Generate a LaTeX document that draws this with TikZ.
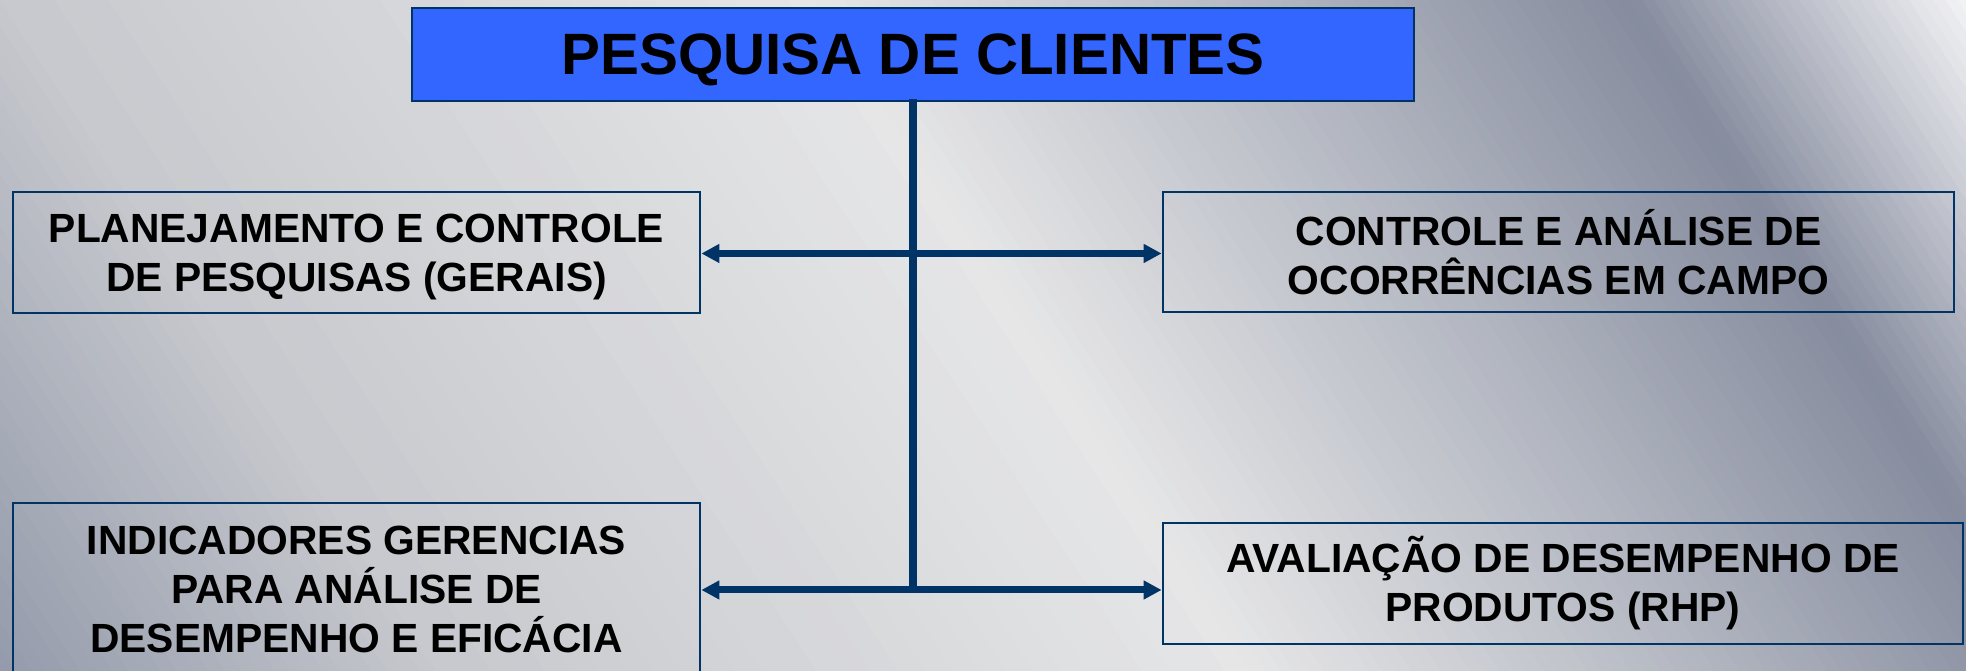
\documentclass[tikz,border=0pt]{standalone}
\usepackage{fontspec}
\setmainfont{Liberation Sans}
\usepackage{xcolor}
\usetikzlibrary{positioning}
\usetikzlibrary{arrows.meta}

\definecolor{navy}{RGB}{0,51,102}
\definecolor{titleblue}{RGB}{51,102,255}
\definecolor{bgA}{RGB}{142,149,167}
\definecolor{bgB}{RGB}{198,200,205}
\definecolor{bgC}{RGB}{230,230,231}
\definecolor{bgD}{RGB}{180,184,194}
\definecolor{bgE}{RGB}{134,140,158}
\definecolor{bgF}{RGB}{251,251,252}

\begin{document}
\begin{tikzpicture}[
    box/.style={draw=navy, line width=0.8pt, align=center, inner sep=0pt,
      font=\bfseries\fontsize{11.6}{13.9}\selectfont},
    link/.style={draw=navy, line width=2pt},
    arr/.style={link, -{Triangle[length=1.8mm, width=1.8mm]}}
  ]
    \useasboundingbox (0,0) rectangle (19.66,6.71);

    % Metallic background
    \begin{scope}
      \clip (0,0) rectangle (19.66,6.71);
      \foreach \pa/\pb/\ca/\cb in {-0.5/4.36/bgA/bgB, 4.36/12.51/bgB/bgC,
          12.51/16.9/bgC/bgD, 16.9/20.66/bgD/bgE, 20.66/24.3/bgE/bgF} {
        \foreach \k in {0,...,29} {
          \pgfmathsetmacro\lo{\pa+(\pb-\pa)*\k/30}
          \pgfmathsetmacro\hi{\pa+(\pb-\pa)*(\k+1)/30+0.02}
          \pgfmathtruncatemacro\mx{100-(\k+0.5)*100/30}
          \fill[\ca!\mx!\cb] (\lo+0.65,-1) -- (\hi+0.65,-1)
            -- (\hi-5.2,8) -- (\lo-5.2,8) -- cycle;
        }
      }
    \end{scope}

    % Boxes
    \node[box, fill=titleblue, text depth=0pt, minimum width=10.02cm,
      minimum height=0.93cm, font=\bfseries\fontsize{16.6}{20}\selectfont]
      (title) at (9.13,6.165) {PESQUISA DE CLIENTES};
    \node[box, text depth=0pt, minimum width=6.87cm, minimum height=1.21cm]
      (plan) at (3.565,4.185) {PLANEJAMENTO E CONTROLE\\DE PESQUISAS (GERAIS)};
    \node[box, minimum width=7.91cm, minimum height=1.20cm] (ctrl) at (15.585,4.19)
      {CONTROLE E ANÁLISE DE\\OCORRÊNCIAS EM CAMPO};
    \node[box, minimum width=6.87cm, minimum height=1.73cm] (indic) at (3.565,0.815)
      {INDICADORES GERENCIAS\\PARA ANÁLISE DE\\DESEMPENHO E EFICÁCIA};
    \node[box, minimum width=8.00cm, minimum height=1.21cm] (aval) at (15.63,0.875)
      {AVALIAÇÃO DE DESEMPENHO DE\\PRODUTOS (RHP)};

    % Connectors
    \coordinate (jt) at (9.13,4.175);
    \coordinate (jb) at (9.13,0.81);
    \draw[link, line cap=rect] (title.south) -- (jb);
    \draw[arr] (jt) -- (plan.east |- jt);
    \draw[arr] (jt) -- (ctrl.west |- jt);
    \draw[arr] (jb) -- (indic.east |- jb);
    \draw[arr] (jb) -- (aval.west |- jb);
\end{tikzpicture}
\end{document}
